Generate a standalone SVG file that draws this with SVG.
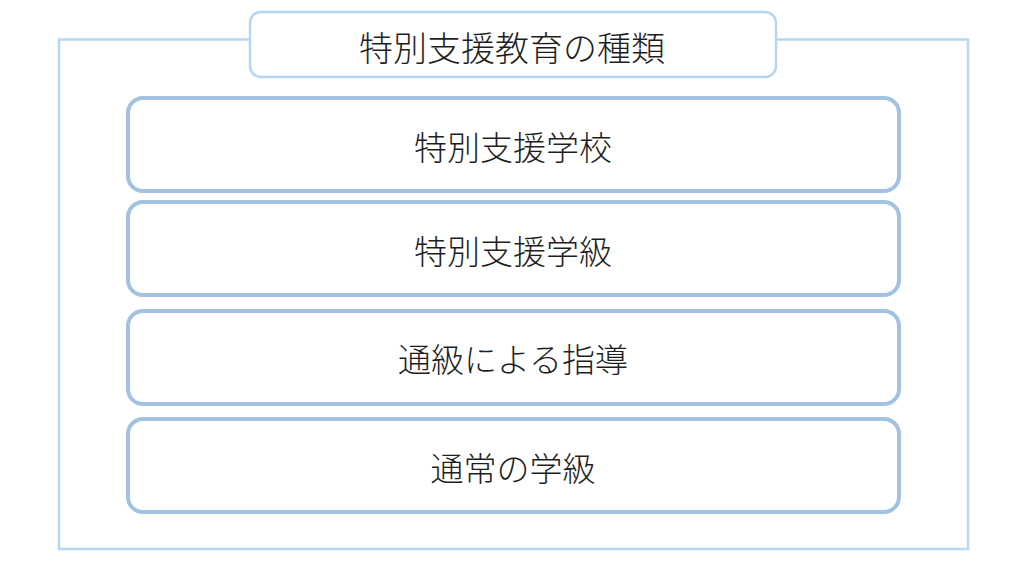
<svg xmlns="http://www.w3.org/2000/svg" width="1024" height="576" viewBox="0 0 1024 576">
<style>
.t{font-family:"Noto Sans CJK JP","Noto Sans",sans-serif;font-weight:300;font-size:33px;fill:#1e1e1e;text-anchor:middle;dominant-baseline:central}
.box{fill:#fff;stroke:#a2c2e2;stroke-width:4}
</style>
<rect width="1024" height="576" fill="#fff"/>
<g id="frame">
<rect x="59" y="39.5" width="909" height="509.5" fill="#fff" stroke="#b8d8f2" stroke-width="2.5"/>
</g>
<g id="title">
<rect x="250" y="12" width="526" height="65" rx="11" fill="#fff" stroke="#b5d5f0" stroke-width="2.5"/>
<text class="t" x="512" y="46" style="font-size:34px">特別支援教育の種類</text>
</g>
<g id="n1">
<rect class="box" x="128" y="98" width="771" height="93" rx="15"/>
<text class="t" x="513" y="146">特別支援学校</text>
</g>
<g id="n2">
<rect class="box" x="128" y="202" width="771" height="93" rx="15"/>
<text class="t" x="513" y="250">特別支援学級</text>
</g>
<g id="n3">
<rect class="box" x="128" y="311" width="771" height="93" rx="15"/>
<text class="t" x="513" y="358">通級による指導</text>
</g>
<g id="n4">
<rect class="box" x="128" y="419" width="771" height="93" rx="15"/>
<text class="t" x="513" y="467">通常の学級</text>
</g>
<g id="connectors"></g>
</svg>
